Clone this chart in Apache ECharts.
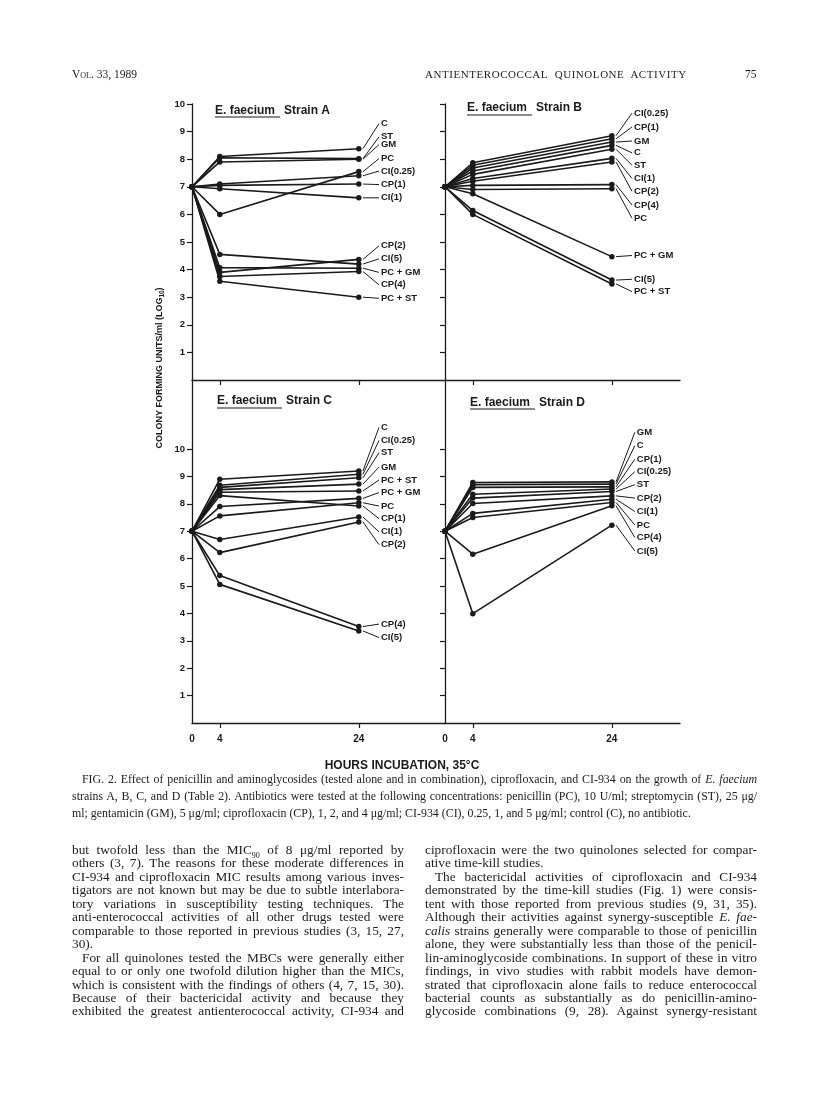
<!DOCTYPE html>
<html>
<head>
<meta charset="utf-8">
<script src="https://cdn.jsdelivr.net/npm/echarts@6/dist/echarts.min.js"></script>
<style>
  body { margin: 0; background: #fff; }
  #page { position: relative; width: 816px; height: 1096px; overflow: hidden; background: #fff; }
  #chart { position: absolute; left: 0; top: 0; width: 816px; height: 1096px; }
  .t { position: absolute; font-family: 'Liberation Serif', 'DejaVu Serif', serif; color: #1c1c1c; white-space: nowrap; }
  .j { text-align: justify; text-align-last: justify; white-space: normal; }
  .cap { font-size: 11.9px; line-height: 14px; }
  .body { font-size: 13.3px; line-height: 13.4px; }
</style>
</head>
<body>
<div id="page">
  <div id="chart"></div>

  <div class="t" style="left:72px; top:68px; font-size:11.5px; font-variant:small-caps;">Vol. 33, 1989</div>
  <div class="t" style="left:425px; top:68px; font-size:11px; letter-spacing:0.55px;">ANTIENTEROCOCCAL&nbsp; QUINOLONE&nbsp; ACTIVITY</div>
  <div class="t" style="left:745px; top:68px; font-size:11.5px;">75</div>

  <div class="t cap j" style="left:82px; top:772px; width:675px;">FIG. 2. Effect of penicillin and aminoglycosides (tested alone and in combination), ciprofloxacin, and CI-934 on the growth of <i>E. faecium</i></div>
  <div class="t cap j" style="left:72px; top:789px; width:685px;">strains A, B, C, and D (Table 2). Antibiotics were tested at the following concentrations: penicillin (PC), 10 U/ml; streptomycin (ST), 25 &mu;g/</div>
  <div class="t cap" style="left:72px; top:806px;">ml; gentamicin (GM), 5 &mu;g/ml; ciprofloxacin (CP), 1, 2, and 4 &mu;g/ml; CI-934 (CI), 0.25, 1, and 5 &mu;g/ml; control (C), no antibiotic.</div>

  <div id="colL"></div>
  <div id="colR"></div>
</div>

<script>
  // ---- data (log10 CFU/ml at 0, 4 and 24 h) ----
  var hours = [0, 4, 24]

  var namesA = ['C', 'ST', 'GM', 'PC', 'CI(0.25)', 'CP(1)', 'CI(1)', 'CP(2)', 'CI(5)', 'PC + GM', 'CP(4)', 'PC + ST']
  var startA = [7, 7, 7, 7, 7, 7, 7, 7, 7, 7, 7, 7]
  var fourA = [8.1, 8.05, 7.9, 6.0, 7.1, 7.05, 6.93, 3.9, 4.55, 4.07, 3.75, 3.58]
  var lastA = [8.38, 8.02, 8.0, 7.55, 7.4, 7.1, 6.6, 4.37, 4.2, 4.05, 3.93, 3.0]
  var tagA = [9.29, 8.81, 8.53, 8.02, 7.57, 7.08, 6.6, 4.86, 4.39, 3.9, 3.45, 2.96]

  var namesB = ['CI(0.25)', 'CP(1)', 'GM', 'C', 'ST', 'CI(1)', 'CP(2)', 'CP(4)', 'PC', 'PC + GM', 'CI(5)', 'PC + ST']
  var startB = [7, 7, 7, 7, 7, 7, 7, 7, 7, 7, 7, 7]
  var fourB = [7.87, 7.78, 7.68, 7.57, 7.45, 7.3, 7.2, 7.05, 6.9, 6.75, 6.14, 6.0]
  var lastB = [8.85, 8.74, 8.62, 8.5, 8.36, 8.03, 7.9, 7.08, 6.93, 4.47, 3.62, 3.48]
  var tagB = [9.67, 9.17, 8.66, 8.23, 7.78, 7.3, 6.84, 6.34, 5.86, 4.51, 3.65, 3.2]

  var namesC = ['C', 'CI(0.25)', 'ST', 'GM', 'PC + ST', 'PC + GM', 'PC', 'CP(1)', 'CI(1)', 'CP(2)', 'CP(4)', 'CI(5)']
  var startC = [7, 7, 7, 7, 7, 7, 7, 7, 7, 7, 7, 7]
  var fourC = [8.9, 8.68, 8.6, 8.52, 8.42, 7.9, 7.56, 8.3, 6.7, 6.22, 5.38, 5.06]
  var lastC = [9.2, 9.08, 8.95, 8.72, 8.47, 8.2, 8.04, 7.92, 7.52, 7.34, 3.52, 3.36]
  var tagC = [10.79, 10.31, 9.87, 9.34, 8.87, 8.41, 7.92, 7.46, 6.98, 6.51, 3.61, 3.12]

  var namesD = ['GM', 'C', 'CP(1)', 'CI(0.25)', 'ST', 'CP(2)', 'CI(1)', 'PC', 'CP(4)', 'CI(5)']
  var startD = [7, 7, 7, 7, 7, 7, 7, 7, 7, 7]
  var fourD = [8.78, 8.7, 8.6, 8.35, 8.21, 8.01, 7.65, 7.5, 6.16, 3.99]
  var lastD = [8.8, 8.72, 8.62, 8.54, 8.45, 8.29, 8.17, 8.05, 7.93, 7.22]
  var tagD = [10.61, 10.12, 9.63, 9.17, 8.7, 8.21, 7.72, 7.23, 6.77, 6.28]

  var strains = ['A', 'B', 'C', 'D']
  var xTicks = [4, 24]
  var xLabels = [0, 4, 24]
  var yTicks = [1, 2, 3, 4, 5, 6, 7, 8, 9, 10]

  // ---- body text ----
  var leftLines = [
    'but twofold less than the MIC<sub style="font-size:8px">90</sub> of 8 &mu;g/ml reported by',
    'others (3, 7). The reasons for these moderate differences in',
    'CI-934 and ciprofloxacin MIC results among various inves-',
    'tigators are not known but may be due to subtle interlabora-',
    'tory variations in susceptibility testing techniques. The',
    'anti-enterococcal activities of all other drugs tested were',
    'comparable to those reported in previous studies (3, 15, 27,',
    '#30).',
    '>For all quinolones tested the MBCs were generally either',
    'equal to or only one twofold dilution higher than the MICs,',
    'which is consistent with the findings of others (4, 7, 15, 30).',
    'Because of their bactericidal activity and because they',
    'exhibited the greatest antienterococcal activity, CI-934 and'
  ]
  var rightLines = [
    'ciprofloxacin were the two quinolones selected for compar-',
    '#ative time-kill studies.',
    '>The bactericidal activities of ciprofloxacin and CI-934',
    'demonstrated by the time-kill studies (Fig. 1) were consis-',
    'tent with those reported from previous studies (9, 31, 35).',
    'Although their activities against synergy-susceptible <i>E. fae-</i>',
    '<i>calis</i> strains generally were comparable to those of penicillin',
    'alone, they were substantially less than those of the penicil-',
    'lin-aminoglycoside combinations. In support of these in vitro',
    'findings, in vivo studies with rabbit models have demon-',
    'strated that ciprofloxacin alone fails to reduce enterococcal',
    'bacterial counts as substantially as do penicillin-amino-',
    'glycoside combinations (9, 28). Against synergy-resistant'
  ]

  function writeColumn (id, lines, left, width) {
    var html = ''
    for (var i = 0; i < lines.length; i++) {
      var s = lines[i]
      var cls = 't body j'
      var l = left
      var w = width
      if (s[0] === '#') { s = s.slice(1); cls = 't body' }
      if (s[0] === '>') { s = s.slice(1); l = left + 10; w = width - 10 }
      html += '<div class="' + cls + '" style="left:' + l + 'px; top:' + (843 + i * 13.45) + 'px; width:' + w + 'px;">' + s + '</div>'
    }
    document.getElementById(id).innerHTML = html
  }
  writeColumn('colL', leftLines, 72, 332)
  writeColumn('colR', rightLines, 425, 332)

  // ---- chart ----
  var chart = echarts.init(document.getElementById('chart'))
  var ink = '#1a1a1a'
  var sans = '"Liberation Sans", Arial, sans-serif'

  var panels = [
    { names: namesA, start: startA, four: fourA, last: lastA, tag: tagA, x1: 26.9 },
    { names: namesB, start: startB, four: fourB, last: lastB, tag: tagB, x1: 26.9 },
    { names: namesC, start: startC, four: fourC, last: lastC, tag: tagC, x1: 26.9 },
    { names: namesD, start: startD, four: fourD, last: lastD, tag: tagD, x1: 27.3 }
  ]

  var grids = [
    { left: 192, top: 104, width: 253, height: 276 },
    { left: 445, top: 104, width: 235, height: 276 },
    { left: 192, top: 380, width: 253, height: 343 },
    { left: 445, top: 380, width: 235, height: 343 }
  ]
  var xMax = [36.4, 33.8, 36.4, 33.8]
  var yMax = [10, 10, 12.52, 12.52]

  var xAxes = []
  var yAxes = []
  for (var g = 0; g < 4; g++) {
    xAxes.push({
      type: 'value', gridIndex: g, min: 0, max: xMax[g],
      splitLine: { show: false },
      axisLine: { lineStyle: { color: ink, width: 1.3 } },
      axisTick: { customValues: xTicks, length: 5, lineStyle: { color: ink, width: 1.2 } },
      axisLabel: {
        show: g >= 2, customValues: xLabels, margin: 11,
        color: ink, fontFamily: sans, fontWeight: 'bold', fontSize: 10
      }
    })
    yAxes.push({
      type: 'value', gridIndex: g, min: 0, max: yMax[g], interval: 1,
      splitLine: { show: false },
      axisLine: { lineStyle: { color: ink, width: 1.3 } },
      axisTick: { customValues: yTicks, length: 5, lineStyle: { color: ink, width: 1.2 } },
      axisLabel: {
        show: g === 0 || g === 2, customValues: yTicks, margin: 7,
        color: ink, fontFamily: sans, fontWeight: 'bold', fontSize: 9.5
      }
    })
  }

  var series = []
  panels.forEach(function (p, g) {
    p.names.forEach(function (name, i) {
      var vals = [p.start[i], p.four[i], p.last[i]]
      series.push({
        type: 'line', name: name, xAxisIndex: g, yAxisIndex: g,
        data: hours.map(function (h, k) { return [h, vals[k]] }),
        symbol: 'circle', symbolSize: 5.5, clip: false, silent: true,
        lineStyle: { color: ink, width: 1.6 },
        itemStyle: { color: ink },
        z: 3
      })
    })
    // leader lines from the 24 h point to each drug label
    series.push({
      type: 'custom', xAxisIndex: g, yAxisIndex: g, silent: true, clip: false,
      data: p.names.map(function (n, i) { return [p.last[i], p.tag[i], i] }),
      renderItem: function (params, api) {
        var a = api.coord([24.6, api.value(0)])
        var b = api.coord([p.x1, api.value(1)])
        return {
          type: 'group',
          children: [
            { type: 'line', shape: { x1: a[0], y1: a[1], x2: b[0], y2: b[1] }, style: { stroke: ink, lineWidth: 1 } },
            { type: 'text', style: { text: p.names[api.value(2)], x: b[0] + 2, y: b[1], align: 'left', verticalAlign: 'middle', font: 'bold 9.5px ' + sans, fill: ink } }
          ]
        }
      }
    })
  })

  // strain titles with underlined species name
  var titlePos = [[215, 111, 117], [467, 108, 115], [217, 401, 408], [470, 403, 409]]
  var graphics = []
  titlePos.forEach(function (t, i) {
    graphics.push({ type: 'text', x: t[0], y: t[1], style: { text: 'E. faecium', font: 'bold 12px ' + sans, fill: ink, verticalAlign: 'middle' } })
    graphics.push({ type: 'text', x: t[0] + 69, y: t[1], style: { text: 'Strain ' + strains[i], font: 'bold 12px ' + sans, fill: ink, verticalAlign: 'middle' } })
    graphics.push({ type: 'line', shape: { x1: t[0], y1: t[2], x2: t[0] + 65, y2: t[2] }, style: { stroke: ink, lineWidth: 1.2 } })
  })
  graphics.push({
    type: 'text', x: 160, y: 368, rotation: Math.PI / 2,
    style: {
      text: '{a|COLONY FORMING UNITS/ml (LOG}{s|10}{a|)}',
      align: 'center', verticalAlign: 'middle',
      rich: {
        a: { font: 'bold 9px "Liberation Sans Narrow", ' + sans, fill: ink },
        s: { font: 'bold 6.5px "Liberation Sans Narrow", ' + sans, fill: ink, padding: [5, 0, 0, 0] }
      }
    }
  })
  graphics.push({
    type: 'text', x: 402, y: 766,
    style: { text: 'HOURS INCUBATION, 35\u00b0C', font: 'bold 12px ' + sans, fill: ink, align: 'center', verticalAlign: 'middle' }
  })

  chart.setOption({
    animation: false,
    grid: grids,
    xAxis: xAxes,
    yAxis: yAxes,
    series: series,
    graphic: graphics
  })
</script>
</body>
</html>
